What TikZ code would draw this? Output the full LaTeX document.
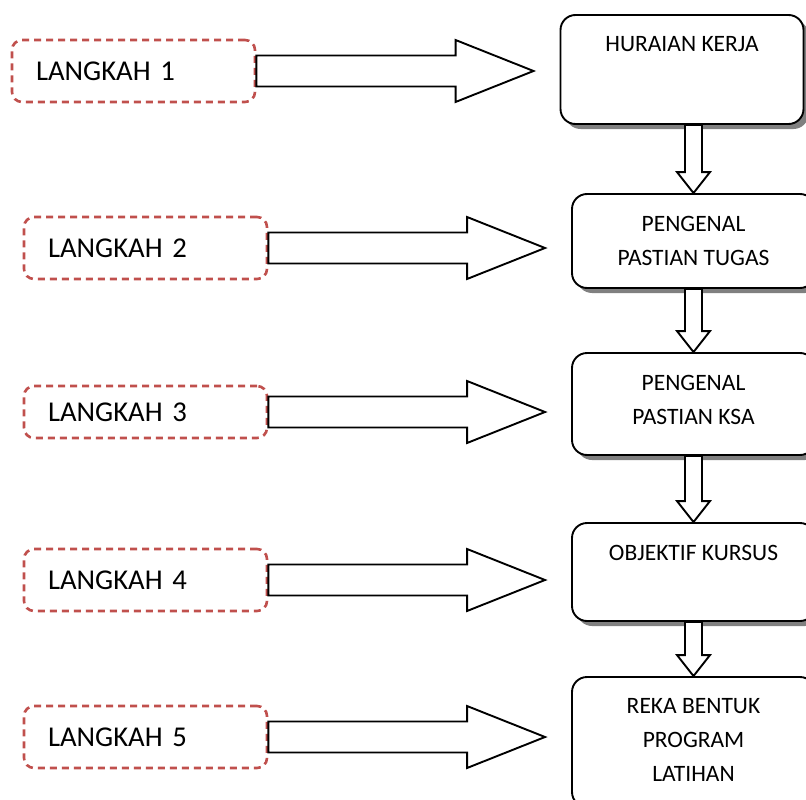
\documentclass[tikz,border=0pt]{standalone}
\usepackage{fontspec}
\setmainfont{Carlito}
\usetikzlibrary{positioning,calc,shadows}

\definecolor{dashred}{RGB}{192,80,77}

\begin{document}
\begin{tikzpicture}[x=1pt,y=-1pt]

	\tikzstyle langkah box=[draw=dashred, line width=2.6pt, dash pattern=on 7pt off 5pt, rounded corners=10pt, text width=195pt, inner xsep=24pt, inner ysep=0pt, align=left, font=\fontsize{28.7}{34}\selectfont];
	\tikzstyle task box=[draw, line width=1.9pt, rounded corners=15pt, fill=white, minimum width=243pt, drop shadow={shadow xshift=5pt, shadow yshift=-5pt, fill=black!50, opacity=1}];
	\tikzstyle task text=[inner sep=0pt, align=center, font=\fontsize{23.5}{34}\selectfont];
	\tikzstyle block arrow=[draw, line width=1.9pt, fill=white, line join=miter];

	\clip (0,0) rectangle (806,800);

	% langkah (left)
	\foreach \i/\x/\y/\h in {1/133.5/71/62pt,2/145.5/248/62pt,3/145.5/412/52pt,4/145.5/580/62pt,5/145.5/737/62pt}
		\node[langkah box, minimum height=\h] (l\i) at (\x,\y) {LANGKAH \i};

	% boxes (right)
	\node[task box, minimum height=109pt] (b1) at (682,69.5) {};
	\node[task box, minimum height=94pt] (b2) at (693.5,241) {};
	\node[task box, minimum height=102pt] (b3) at (693.5,404) {};
	\node[task box, minimum height=98pt] (b4) at (693.5,572) {};
	\node[task box, minimum height=130pt] (b5) at (693.5,742) {};

	\node[task text, below=22.5pt of b1.north] (t1) {HURAIAN KERJA};
	\node[task text, below=22.5pt of b2.north] (t2) {PENGENAL\\PASTIAN TUGAS};
	\node[task text, below=22.5pt of b3.north] (t3) {PENGENAL\\PASTIAN KSA};
	\node[task text, below=22.5pt of b4.north] (t4) {OBJEKTIF KURSUS};
	\node[task text, below=22.5pt of b5.north] (t5) {REKA BENTUK\\PROGRAM\\LATIHAN};

	% arrows langkah -> box
	\foreach \i in {1,...,5}{
		\coordinate (tip\i) at ($(b\i.west |- l\i.east)+(-26,0)$);
		\draw[block arrow] ($(l\i.east)+(0,-15.5)$) -- ($(tip\i)+(-78,-15.5)$) -- ++(0,-15.5) -- (tip\i) -- ++(-78,31) -- ++(0,-15.5) -- ($(l\i.east)+(0,15.5)$) -- cycle;
	}

	% arrows box -> box
	\foreach \i/\j in {1/2,2/3,3/4,4/5}
		\draw[block arrow] (b\j.north) -- ++(-16.5,-21) -- ++(8,0) -- ($(b\i.south -| b\j.north)+(-8.5,0)$) -- ++(17,0) -- ($(b\j.north)+(8.5,-21)$) -- ++(8,0) -- cycle;

\end{tikzpicture}
\end{document}
